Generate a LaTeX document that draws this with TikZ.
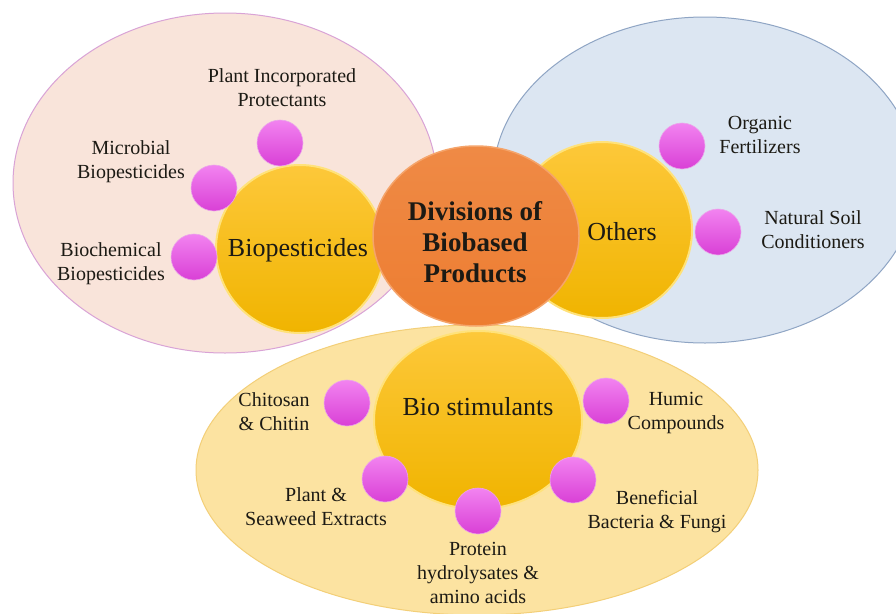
\documentclass[tikz,border=0pt]{standalone}
\usepackage{fontspec}
\setmainfont{Liberation Serif}
\usepackage{tikz}
\usetikzlibrary{shapes.geometric,positioning}
\definecolor{pinkfill}{HTML}{F9E4DA}
\definecolor{pinkline}{HTML}{D9A3D6}
\definecolor{bluefill}{HTML}{DCE6F2}
\definecolor{blueline}{HTML}{8FA5C4}
\definecolor{yelfill}{HTML}{FCE3A1}
\definecolor{yelline}{HTML}{F3CF78}
\definecolor{goldtop}{HTML}{FDC83A}
\definecolor{goldbot}{HTML}{F0B400}
\definecolor{goldrim}{HTML}{FFE27A}
\definecolor{coreorange}{HTML}{ED7D31}
\definecolor{corerim}{HTML}{F5A46A}
\definecolor{balltop}{HTML}{F283F0}
\definecolor{ballbot}{HTML}{D940D6}
\definecolor{ballrim}{HTML}{EBA6EA}
\definecolor{txt}{HTML}{1C1A14}
\tikzset{
  group/.style={ellipse,inner sep=0pt,line width=1pt},
  division/.style={ellipse,inner sep=0pt,draw=goldrim,line width=2pt,
    top color=goldtop,bottom color=goldbot},
  divtext/.style={font=\fontsize{26}{30}\selectfont,text=txt},
  ball/.style={circle,minimum size=46pt,inner sep=0pt,draw=ballrim,
    line width=0.6pt,top color=balltop,bottom color=ballbot},
  lbl/.style={align=center,font=\fontsize{20}{24}\selectfont,text=txt}
}

\begin{document}
\begin{tikzpicture}[x=1pt,y=-1pt]
\useasboundingbox (0,0) rectangle (896,613);
\fill[white] (0,0) rectangle (896,613);
% the three groups
\node[group,fill=yelfill,draw=yelline,minimum width=562pt,minimum height=290pt] (stimgroup) at (477,470) {};
\node[group,fill=pinkfill,draw=pinkline,minimum width=424pt,minimum height=340pt] (pestgroup) at (225,183) {};
\node[group,fill=bluefill,draw=blueline,minimum width=424pt,minimum height=326pt] (othgroup) at (705,180) {};
% divisions
\node[division,minimum width=168pt,minimum height=168pt] (pest) at (300,249) {};
\node[division,minimum width=180pt,minimum height=176pt] (other) at (602,230) {};
\node[division,minimum width=208pt,minimum height=178pt] (stim) at (478,420) {};
\node[ellipse,inner sep=0pt,draw=corerim,line width=1.5pt,top color=coreorange!90!white,
  bottom color=coreorange,minimum width=206pt,minimum height=180pt] (core) at (476,236) {};
\node[divtext] (pesttxt) at (298,250) {Biopesticides};
\node[divtext] (othtxt) at (622,232) {Others};
\node[divtext] (stimtxt) at (478,407) {Bio stimulants};
\node[align=center,font=\fontsize{27}{31}\selectfont\bfseries,text=txt] (coretxt) at (475,242)
  {Divisions of\\Biobased\\Products};
% members
\node[ball] (pip) at (280,143) {};
\node[ball] (mic) at (214,188) {};
\node[ball] (bchem) at (194,257) {};
\node[ball] (orgf) at (682,146) {};
\node[ball] (soil) at (718,232) {};
\node[ball] (chit) at (347,403) {};
\node[ball] (humic) at (606,401) {};
\node[ball] (seaw) at (385,479) {};
\node[ball] (prot) at (478,511) {};
\node[ball] (bene) at (573,480) {};
\node[lbl] (piptxt) at (282,88) {Plant Incorporated\\Protectants};
\node[lbl] (mictxt) at (131,162) {Microbial\\Biopesticides};
\node[lbl] (bchemtxt) at (111,264) {Biochemical\\Biopesticides};
\node[lbl] (orgftxt) at (760,135) {Organic\\Fertilizers};
\node[lbl] (soiltxt) at (813,230) {Natural Soil\\Conditioners};
\node[lbl] (chittxt) at (274,412) {Chitosan\\\& Chitin};
\node[lbl] (humictxt) at (676,413) {Humic\\Compounds};
\node[lbl] (seawtxt) at (316,507) {Plant \&\\Seaweed Extracts};
\node[lbl] (prottxt) at (478,573) {Protein\\hydrolysates \&\\amino acids};
\node[lbl] (benetxt) at (657,512) {Beneficial\\Bacteria \& Fungi};
\end{tikzpicture}
\end{document}
